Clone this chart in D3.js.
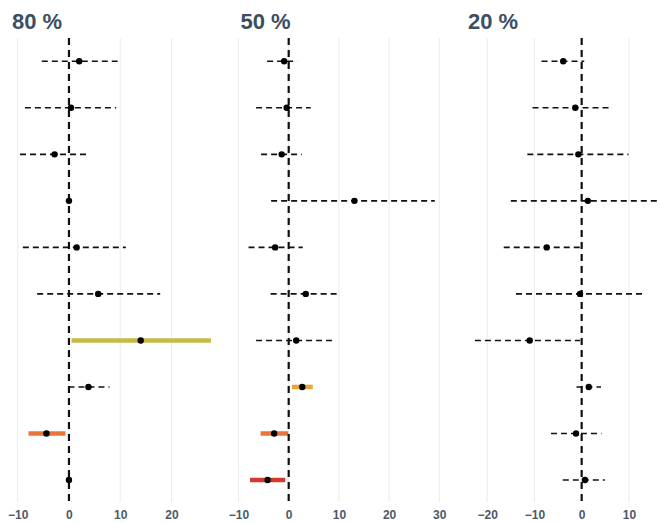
<!DOCTYPE html>
<html>
<head>
<meta charset="utf-8">
<script src="https://cdn.jsdelivr.net/npm/d3@7"></script>
<style>
  html, body { margin: 0; padding: 0; background: #fff; }
  svg { display: block; }
</style>
</head>
<body>
<svg id="chart" width="660" height="523"></svg>
<script>
// Panel titles
const panelTitles = ["80 %", "50 %", "20 %"];

// Row identifiers (top to bottom)
const rows = [1, 2, 3, 4, 5, 6, 7, 8, 9, 10];

// Point estimates per panel
const est80 = [2.0, 0.4, -2.8, 0, 1.5, 5.7, 14.0, 3.8, -4.4, 0];
const est50 = [-0.9, -0.4, -1.4, 13.1, -2.7, 3.4, 1.5, 2.7, -2.9, -4.2];
const est20 = [-3.9, -1.35, -0.7, 1.3, -7.4, -0.35, -11.0, 1.5, -1.2, 0.7];

// Interval lower bounds
const lo80 = [-5.3, -8.6, -9.55, 0, -9.0, -6.2, 0.5, -0.1, -7.9, 0];
const lo50 = [-4.3, -6.5, -5.5, -3.5, -8.0, -3.6, -6.5, 0.65, -5.6, -7.7];
const lo20 = [-8.5, -10.4, -11.5, -15.0, -16.5, -13.9, -22.6, -1.1, -6.5, -4.0];

// Interval upper bounds
const hi80 = [9.5, 9.2, 3.6, 0, 11.1, 17.8, 27.7, 7.9, -0.7, 0];
const hi50 = [1.7, 4.4, 2.6, 29.1, 2.8, 9.8, 9.3, 4.8, -0.1, -0.7];
const hi20 = [0.55, 6.5, 9.9, 17.5, 0.1, 13.5, -0.35, 4.1, 4.2, 4.9];

// Highlight colour for an interval (null = plain dashed interval)
const hl80 = [null, null, null, null, null, null, "#c6bb45", null, "#e8763a", null];
const hl50 = [null, null, null, null, null, null, null, "#e6a73b", "#e8763a", "#d63a2f"];
const hl20 = [null, null, null, null, null, null, null, null, null, null];

// Axis tick values per panel
const ticks80 = [-10, 0, 10, 20];
const ticks50 = [-10, 0, 10, 20, 30];
const ticks20 = [-20, -10, 0, 10];

const panels = [
  { title: panelTitles[0], est: est80, lo: lo80, hi: hi80, hl: hl80, ticks: ticks80,
    domain: [-11.7, 28.3], range: [9, 214] },
  { title: panelTitles[1], est: est50, lo: lo50, hi: hi50, hl: hl50, ticks: ticks50,
    domain: [-10.2, 30.6], range: [237.5, 442.3] },
  { title: panelTitles[2], est: est20, lo: lo20, hi: hi20, hl: hl20, ticks: ticks20,
    domain: [-24.7, 18.7], range: [465, 670] }
];

const svg = d3.select("#chart");
const plotTop = 38, plotBottom = 502;

const y = d3.scalePoint()
  .domain(rows)
  .range([61.3, 480])
  .padding(0);

panels.forEach(p => {
  const x = d3.scaleLinear().domain(p.domain).range(p.range);
  const g = svg.append("g");

  // vertical gridlines
  g.selectAll("line.grid")
    .data(p.ticks)
    .join("line")
    .attr("class", "grid")
    .attr("x1", d => x(d)).attr("x2", d => x(d))
    .attr("y1", plotTop).attr("y2", plotBottom)
    .attr("stroke", "#ebebeb")
    .attr("stroke-width", 1);

  // bottom axis labels
  const axis = d3.axisBottom(x).tickValues(p.ticks).tickSize(0).tickPadding(0)
    .tickFormat(d3.format("d"));
  const ag = g.append("g").attr("transform", `translate(0,${plotBottom + 8})`).call(axis);
  ag.select(".domain").remove();
  ag.selectAll("text")
    .attr("font-family", "'Liberation Sans', Arial, sans-serif")
    .attr("font-size", 12)
    .attr("font-weight", "bold")
    .attr("fill", "#4b5a69")
    .attr("dy", "0.71em");

  const data = rows.map((r, i) => ({ r, est: p.est[i], lo: p.lo[i], hi: p.hi[i], hl: p.hl[i] }));

  // highlighted intervals (solid, coloured)
  g.selectAll("line.hl")
    .data(data.filter(d => d.hl))
    .join("line")
    .attr("class", "hl")
    .attr("x1", d => x(d.lo)).attr("x2", d => x(d.hi))
    .attr("y1", d => y(d.r)).attr("y2", d => y(d.r))
    .attr("stroke", d => d.hl)
    .attr("stroke-width", 4.5);

  // plain intervals (dashed)
  g.selectAll("line.ci")
    .data(data.filter(d => !d.hl && d.hi > d.lo))
    .join("line")
    .attr("class", "ci")
    .attr("x1", d => x(d.lo)).attr("x2", d => x(d.hi))
    .attr("y1", d => y(d.r)).attr("y2", d => y(d.r))
    .attr("stroke", "#111")
    .attr("stroke-width", 1.6)
    .attr("stroke-dasharray", "6,4");

  // zero reference line
  g.append("line")
    .attr("x1", x(0)).attr("x2", x(0))
    .attr("y1", plotTop).attr("y2", plotBottom)
    .attr("stroke", "#111")
    .attr("stroke-width", 2.2)
    .attr("stroke-dasharray", "7,5");

  // point estimates
  g.selectAll("circle.pt")
    .data(data)
    .join("circle")
    .attr("class", "pt")
    .attr("cx", d => x(d.est))
    .attr("cy", d => y(d.r))
    .attr("r", 3.2)
    .attr("fill", "#000");

  // panel title
  svg.append("text")
    .attr("x", p.range[0] + 3)
    .attr("y", 29)
    .attr("font-family", "'Liberation Sans', Arial, sans-serif")
    .attr("font-size", 22)
    .attr("font-weight", "bold")
    .attr("fill", "#3b4e63")
    .text(p.title);
});
</script>
</body>
</html>
